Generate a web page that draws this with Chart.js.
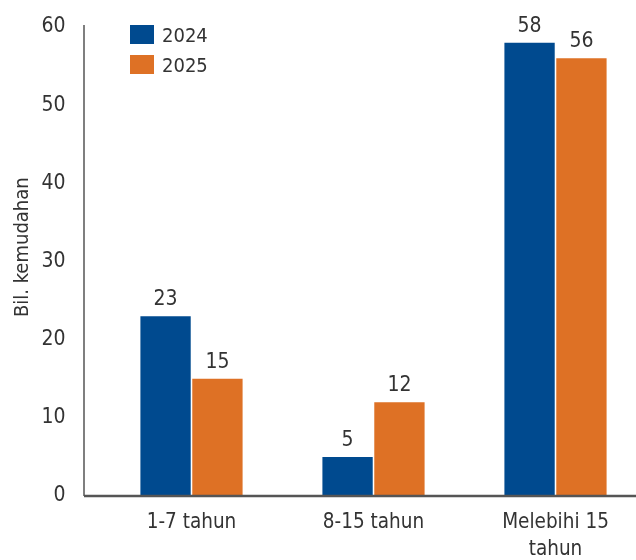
<!DOCTYPE html>
<html>
<head>
<meta charset="utf-8">
<script src="https://cdn.jsdelivr.net/npm/chart.js@4"></script>
<style>
  html, body { margin: 0; padding: 0; background: #fff; overflow: hidden; }
  #wrap { position: relative; width: 660px; height: 560px; }
  #legend { position: absolute; left: 130px; top: 19.5px; font-family: "Liberation Sans Narrow", "DejaVu Sans Condensed", sans-serif; font-size: 20px; color: #333; }
  .item { display: flex; align-items: center; height: 30px; margin-bottom: 0; }
  .box { width: 24px; height: 19px; margin-right: 8px; }
</style>
</head>
<body>
<div id="wrap">
  <canvas id="myChart" width="660" height="560"></canvas>
  <div id="legend"></div>
</div>
<script>
var categories = [['1-7 tahun'], ['8-15 tahun'], ['Melebihi 15', 'tahun']]
var series = ['2024', '2025']
var values2024 = [23, 5, 58]
var values2025 = [15, 12, 56]
var yTicks = [0, 10, 20, 30, 40, 50, 60]
var colors = ['rgb(0, 74, 143)', 'rgb(222, 113, 37)']

var fontFamily = '"Liberation Sans Narrow", "DejaVu Sans Condensed", sans-serif'
var textColor = '#333'

// legend inside the plot, top left
var legend = document.getElementById('legend')
var n = 0
while (n < series.length) {
    legend.innerHTML += `<div class="item"><div class="box" style="background:${colors[n]}"></div>${series[n]}</div>`
    n++
}

// value labels above the bars
const barLabels = {
    id: 'barLabels',
    afterDatasetsDraw(chart) {
        const ctx = chart.ctx
        ctx.save()
        ctx.font = '21px ' + fontFamily
        ctx.fillStyle = textColor
        ctx.textAlign = 'center'
        ctx.textBaseline = 'bottom'
        chart.data.datasets.forEach(function (ds, i) {
            chart.getDatasetMeta(i).data.forEach(function (bar, j) {
                ctx.fillText(ds.data[j], bar.x, bar.y - 6)
            })
        })
        ctx.restore()
    }
}

// axis lines: y axis sits a bit left of the first category slot
const axisLines = {
    id: 'axisLines',
    afterDraw(chart) {
        const a = chart.chartArea
        const ctx = chart.ctx
        const x0 = a.left - 16.5
        ctx.save()
        ctx.strokeStyle = '#555'
        ctx.lineWidth = 1.5
        ctx.beginPath()
        ctx.moveTo(x0, a.top - 2)
        ctx.lineTo(x0, a.bottom)
        ctx.stroke()
        ctx.lineWidth = 2.5
        ctx.beginPath()
        ctx.moveTo(x0, a.bottom)
        ctx.lineTo(a.right, a.bottom)
        ctx.stroke()
        ctx.restore()
    }
}

const data = {
    labels: categories,
    datasets: [
        { label: series[0], data: values2024, backgroundColor: colors[0] },
        { label: series[1], data: values2025, backgroundColor: colors[1] }
    ]
}

const config = {
    type: 'bar',
    data: data,
    options: {
        responsive: false,
        animation: false,
        layout: { padding: { top: 27, right: 13.5, left: 0, bottom: 0 } },
        datasets: { bar: { barPercentage: 0.97, categoryPercentage: 0.57 } },
        plugins: { legend: { display: false }, tooltip: { enabled: false } },
        scales: {
            x: {
                grid: { display: false, drawTicks: false },
                border: { display: false },
                ticks: { color: textColor, font: { family: fontFamily, size: 20.5, lineHeight: 1.32 }, padding: 13, maxRotation: 0 },
                afterFit: function (scale) { scale.height = 64 }
            },
            y: {
                min: 0,
                max: 60,
                afterBuildTicks: function (scale) { scale.ticks = yTicks.map(function (v) { return { value: v } }) },
                grid: { display: false, drawTicks: false },
                border: { display: false },
                ticks: { color: textColor, font: { family: fontFamily, size: 21 }, padding: 35 },
                // leading spaces nudge the centred (rotated) title a little upwards
                title: { display: true, text: '\u00a0\u00a0\u00a0\u00a0\u00a0Bil. kemudahan', color: textColor, font: { family: fontFamily, size: 20 }, padding: { top: 11, bottom: 0 } },
                afterFit: function (scale) {
                    scale.width = 100.5
                    scale.paddingTop = 0
                    scale.paddingBottom = 0
                }
            }
        }
    },
    plugins: [barLabels, axisLines]
}

const myChart = new Chart(document.getElementById('myChart'), config)
</script>
</body>
</html>
